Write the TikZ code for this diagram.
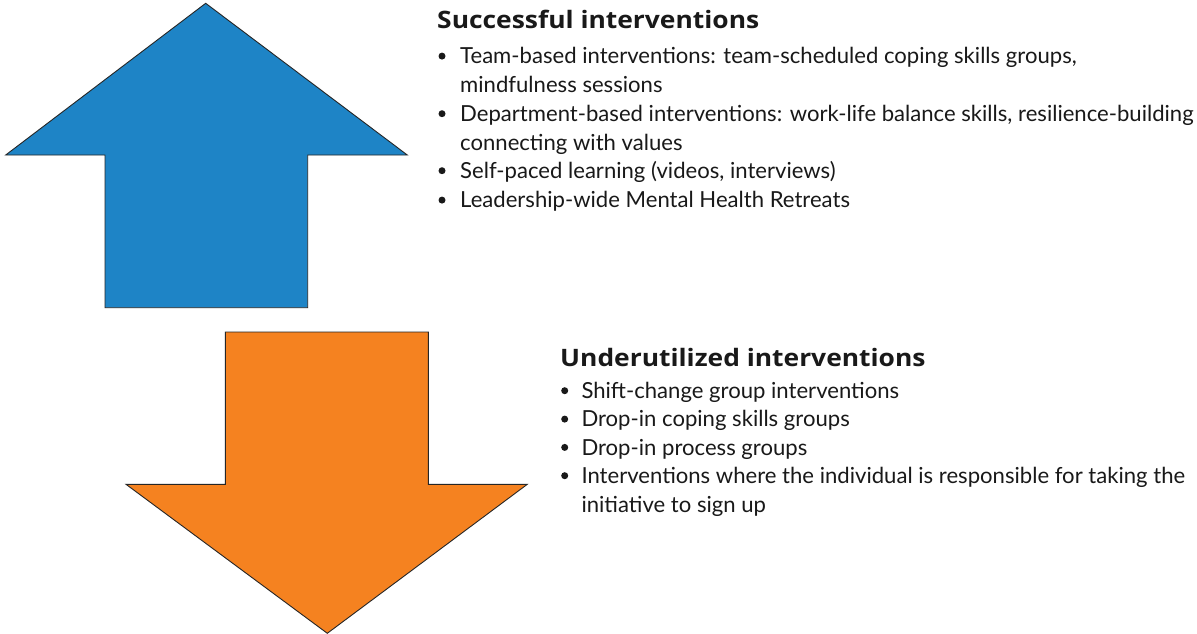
\documentclass[tikz,border=0pt]{standalone}
\usepackage{fontspec}
\setmainfont{Lato}
\newfontfamily\headfont[FakeStretch=1.1]{Open Sans Bold}
\begin{document}
\begin{tikzpicture}[x=1pt,y=-1pt,
  arrowshape/.style={draw=black!85,line width=0.9pt,line join=miter},
  heading/.style={anchor=base west,inner sep=0pt,font=\headfont\fontsize{24}{28}\selectfont,text=black!90},
  item/.style={anchor=base west,inner sep=0pt,align=left,font=\fontsize{22.1}{28.8}\selectfont,text=black!90},
  dot/.style={circle,fill=black!90,inner sep=0pt,minimum size=7pt}]
\definecolor{upblue}{RGB}{30,132,198}
\definecolor{downorange}{RGB}{245,130,32}
\useasboundingbox (0,0) rectangle (1197,634);
\fill[white] (0,0) rectangle (1197,634);

% up arrow
\draw[arrowshape,fill=upblue] (205.7,3.3) -- (407.3,155) -- (307.7,155) -- (307.7,307.7)
  -- (105,307.7) -- (105,155) -- (5.7,155) -- cycle;
% down arrow
\draw[arrowshape,fill=downorange] (327.3,633.3) -- (527.3,484.3) -- (428.3,484.3) -- (428.3,332)
  -- (225.3,332) -- (225.3,484.3) -- (126,484.3) -- cycle;

% successful interventions (two-line items sit on the baseline of their last line)
\node[heading] (h1) at (437,28.3) {Successful interventions};
\node[dot] (b11) at (442,56.1) {};
\node[item] (i11) at (460,92.5) {Team-based interventions: team-scheduled coping skills groups,\\mindfulness sessions};
\node[dot] (b12) at (442,113.7) {};
\node[item] (i12) at (460,150.1) {Department-based interventions: work-life balance skills, resilience-building\\connecting with values};
\node[dot] (b13) at (442,170.7) {};
\node[item] (i13) at (460,178.3) {Self-paced learning (videos, interviews)};
\node[dot] (b14) at (442,200.1) {};
\node[item] (i14) at (460,207.7) {Leadership-wide Mental Health Retreats};

% underutilized interventions
\node[heading] (h2) at (560,366) {Underutilized interventions};
\node[dot] (b21) at (564.7,390.7) {};
\node[item] (i21) at (581.3,398.3) {Shift-change group interventions};
\node[dot] (b22) at (564.7,419.1) {};
\node[item] (i22) at (581.3,426.7) {Drop-in coping skills groups};
\node[dot] (b23) at (564.7,447.4) {};
\node[item] (i23) at (581.3,455) {Drop-in process groups};
\node[dot] (b24) at (564.7,475.7) {};
\node[item] (i24) at (581.3,512.3) {Interventions where the individual is responsible for taking the\\initiative to sign up};
\end{tikzpicture}
\end{document}
